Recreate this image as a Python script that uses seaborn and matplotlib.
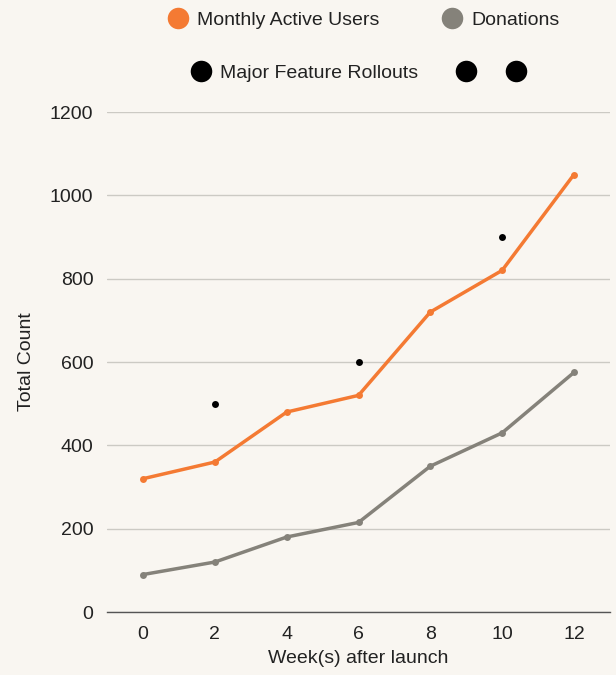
import pandas as pd
import seaborn as sns
import matplotlib.pyplot as plt
from matplotlib.lines import Line2D

weeks = [0, 2, 4, 6, 8, 10, 12]
active_users = [320, 360, 480, 520, 720, 820, 1050]
donations = [90, 120, 180, 215, 350, 430, 575]
rollout_weeks = [2, 6, 10]
rollout_values = [500, 600, 900]

bg = '#f9f6f1'
orange = '#f47a33'
grey = '#85827a'
ink = '#222222'

sns.set_theme(style='white')
plt.rcParams['font.family'] = ['Liberation Sans', 'DejaVu Sans']

fig = plt.figure(figsize=(6.16, 6.75), dpi=100, facecolor=bg)
ax = fig.add_axes([0.174, 0.0933, 0.816, 0.7407])
ax.set_facecolor(bg)

df = pd.DataFrame({'week': weeks, 'users': active_users, 'donations': donations})
sns.lineplot(data=df, x='week', y='users', color=orange, linewidth=2.5,
             marker='o', markersize=5, markeredgewidth=0, ax=ax, zorder=3)
sns.lineplot(data=df, x='week', y='donations', color=grey, linewidth=2.5,
             marker='o', markersize=5, markeredgewidth=0, ax=ax, zorder=3)
sns.scatterplot(x=rollout_weeks, y=rollout_values, color='black', s=25,
                linewidth=0, ax=ax, zorder=4)

ax.set_xlim(-1, 13)
ax.set_ylim(0, 1200)
ax.set_xticks(weeks)
ax.set_yticks([0, 200, 400, 600, 800, 1000, 1200])
ax.yaxis.grid(True, color='#cccac4', linewidth=1)
ax.xaxis.grid(False)
for s in ['top', 'right', 'left']:
    ax.spines[s].set_visible(False)
ax.spines['bottom'].set_color('#555555')
ax.spines['bottom'].set_linewidth(1)
ax.tick_params(axis='both', length=0, labelsize=14, colors=ink, pad=10)
ax.set_xlabel('Week(s) after launch', fontsize=14, color=ink, labelpad=5)
ax.set_ylabel('Total Count', fontsize=14, color=ink, labelpad=11)

def dot(c):
    return Line2D([], [], marker='o', linestyle='', markersize=15.5,
                  markerfacecolor=c, markeredgewidth=0)

leg_kw = dict(loc='center left', frameon=False, fontsize=14, handlelength=1.2)
leg1 = fig.legend([dot(orange), dot(grey)], ['Monthly Active Users', 'Donations'],
                  bbox_to_anchor=(0.2413, 0.97), ncol=2, handletextpad=0.4,
                  columnspacing=3.1, **leg_kw)
leg2 = fig.legend([dot('black')], ['Major Feature Rollouts'],
                  bbox_to_anchor=(0.279, 0.892), handletextpad=0.4, **leg_kw)
leg3 = fig.legend([dot('black'), dot('black')], ['', ''],
                  bbox_to_anchor=(0.709, 0.892), ncol=2, handletextpad=0,
                  columnspacing=1.37, **leg_kw)
for t in leg1.get_texts() + leg2.get_texts():
    t.set_color(ink)

fig.savefig('out.png', dpi=100, facecolor=bg)
